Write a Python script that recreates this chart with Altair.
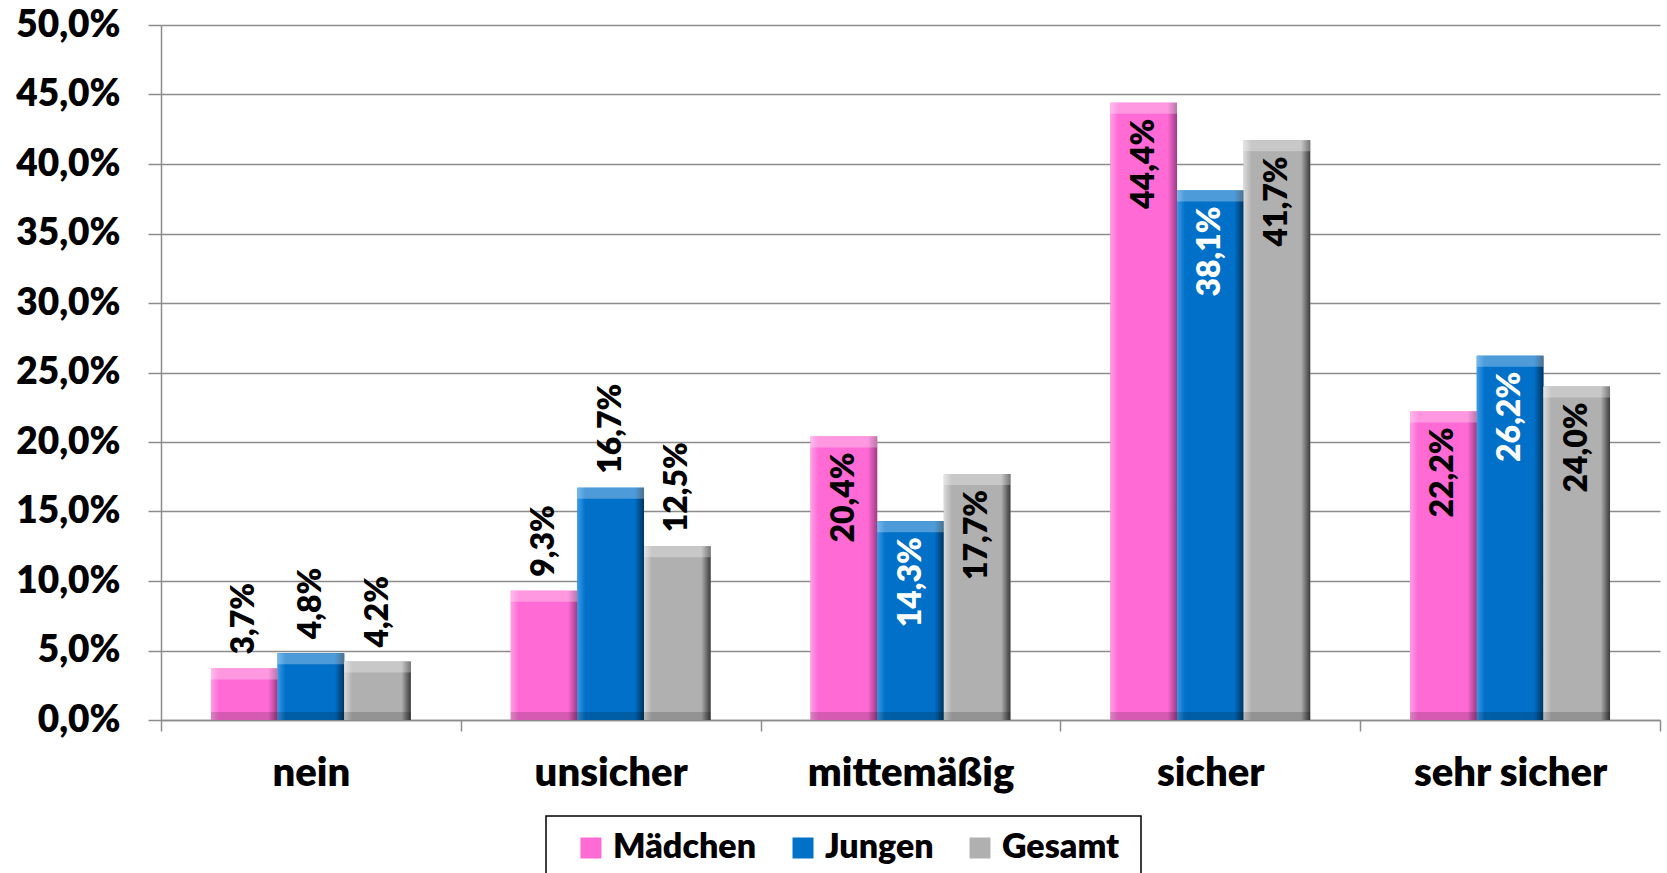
import altair as alt
import pandas as pd

# Survey answers per category, in percent
categories = ["nein", "unsicher", "mittemäßig", "sicher", "sehr sicher"]
series = ["Mädchen", "Jungen", "Gesamt"]
maedchen = [3.7, 9.3, 20.4, 44.4, 22.2]
jungen = [4.8, 16.7, 14.3, 38.1, 26.2]
gesamt = [4.2, 12.5, 17.7, 41.7, 24.0]
y_ticks = [0, 5, 10, 15, 20, 25, 30, 35, 40, 45, 50]

# Categories whose value labels sit above the bars (others sit inside)
labels_above = ["nein", "unsicher"]

# Face, highlight and shadow colours of each series
base_colors = ["#FF6AD5", "#0070C8", "#B0B0B0"]
light_colors = ["#FF9FE6", "#3A9BE8", "#DADADA"]
dark_colors = ["#9C3C84", "#00355F", "#3A3A3A"]

FONT = "Lato, 'Open Sans', sans-serif"
WEIGHT = 800
GRID = "#8C8C8C"

rows = []
for s, vals in zip(series, [maedchen, jungen, gesamt]):
    for c, v in zip(categories, vals):
        rows.append({
            "kategorie": c,
            "gruppe": s,
            "wert": v,
            "label": f"{v:.1f}%".replace(".", ","),
            "oben": c in labels_above,
        })
df = pd.DataFrame(rows)

x_enc = alt.X(
    "kategorie:N",
    sort=categories,
    scale=alt.Scale(paddingInner=0, paddingOuter=0),
    axis=alt.Axis(
        title=None, labelAngle=0, grid=False, tickBand="extent",
        tickSize=11, tickColor=GRID, tickWidth=1.5,
        domainColor=GRID, domainWidth=1.5,
        labelFont=FONT, labelFontSize=40, labelFontWeight=WEIGHT,
        labelColor="black", labelPadding=54, labelBaseline="alphabetic",
        labelLimit=500,
    ),
)
xo_enc = alt.XOffset(
    "gruppe:N", sort=series,
    scale=alt.Scale(domain=series, paddingInner=0, paddingOuter=0.75),
)
y_enc = alt.Y(
    "wert:Q",
    scale=alt.Scale(domain=[0, 50], nice=False, zero=True),
    axis=alt.Axis(
        title=None, values=y_ticks, grid=True, gridColor=GRID, gridWidth=1.5,
        tickSize=13, tickColor=GRID, tickWidth=1.5,
        domainColor=GRID, domainWidth=1.5,
        labelExpr="replace(format(datum.value, '.1f'), '.', ',') + '%'",
        labelFont=FONT, labelFontSize=37, labelFontWeight=WEIGHT,
        labelColor="black", labelPadding=28,
    ),
)

base = alt.Chart(df).encode(x=x_enc, xOffset=xo_enc, y=y_enc)

# Flat bars carry the legend
bars = base.mark_bar().encode(
    color=alt.Color(
        "gruppe:N", sort=series,
        scale=alt.Scale(domain=series, range=base_colors),
        legend=alt.Legend(title=None),
    )
)

# Horizontal shading for the bevelled look
bevel_layers = []
for s, lc, bc, dc in zip(series, light_colors, base_colors, dark_colors):
    grad = alt.Gradient(
        gradient="linear", x1=0, x2=1, y1=0, y2=0,
        stops=[
            alt.GradientStop(color=lc, offset=0),
            alt.GradientStop(color=bc, offset=0.12),
            alt.GradientStop(color=bc, offset=0.86),
            alt.GradientStop(color=dc, offset=1),
        ],
    )
    bevel_layers.append(
        base.transform_filter(alt.datum.gruppe == s).mark_bar(color=grad)
    )

top_strip = base.mark_bar(color="white", opacity=0.3, y2Offset=11).encode(
    y2=alt.Y2("wert")
)
bottom_strip = (
    base.transform_calculate(null0="0")
    .mark_bar(color="black", opacity=0.16, yOffset=-8)
    .encode(y=alt.Y("null0:Q"), y2=alt.Y2("null0"))
)

text_common = dict(angle=270, baseline="middle", font=FONT, fontSize=32,
                   fontWeight=WEIGHT)
labels_out = base.transform_filter(alt.datum.oben).mark_text(
    align="left", dx=14, color="black", **text_common
).encode(text="label:N")
labels_in = base.transform_filter(~alt.datum.oben).mark_text(
    align="right", dx=-16, **text_common
).encode(
    text="label:N",
    color=alt.condition(alt.datum.gruppe == "Jungen",
                        alt.value("white"), alt.value("black")),
)

# Frame around the legend
legend_frame = alt.Chart(pd.DataFrame({"f": [0]})).mark_rect(
    fill="white", stroke="black", strokeWidth=1.5
).encode(
    x=alt.value(385), x2=alt.value(980), y=alt.value(791), y2=alt.value(860)
)

chart = (
    alt.layer(bars, *bevel_layers, top_strip, bottom_strip,
              labels_out, labels_in, legend_frame)
    .properties(
        width=1499, height=695,
        padding={"left": 161, "top": 25, "right": 7, "bottom": 153},
        autosize=alt.AutoSizeParams(type="none"),
    )
    .configure_view(stroke=None)
    .configure_legend(
        orient="none", legendX=413, legendY=806, direction="horizontal",
        symbolType="square", symbolSize=441, symbolStrokeWidth=0,
        labelFont=FONT, labelFontSize=34, labelFontWeight=WEIGHT,
        labelColor="black", labelOffset=5, columnPadding=29, padding=0,
    )
)

chart.save("out.html", embed_options={"renderer": "svg", "actions": False})
